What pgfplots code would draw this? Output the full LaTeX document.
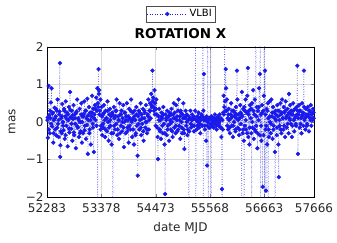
\documentclass[border=0pt]{standalone}
\usepackage{fontspec}
\setmainfont{DejaVu Sans}
\usepackage{pgfplots}
\pgfplotsset{compat=1.18}
\usepackage{pgfplotstable}
\definecolor{vblue}{RGB}{25,25,235}
\pgfplotstableread{
x y
52285 6
52291 0.05
52303 -0.42
52315 0.96
52327 0.18
52339 -0.3
52351 0.1
52363 0.52
52375 0.9
52387 -0.12
52399 0.25
52411 -0.55
52423 0.05
52435 0.38
52447 -0.2
52459 0.15
52471 -0.36
52483 0.3
52495 0.6
52507 -0.05
52519 -0.4
52531 0.2
52543 1.57
52549 -0.93
52555 -0.62
52567 0.1
52579 -0.3
52591 0.48
52603 0.0
52615 -0.22
52627 0.35
52639 -0.45
52651 0.15
52663 0.55
52675 -0.1
52687 0.25
52699 -0.65
52711 0.05
52723 0.4
52735 -0.28
52747 0.8
52759 0.12
52771 -0.18
52783 0.3
52795 -0.5
52807 0.08
52819 0.45
52831 -0.35
52843 0.2
52855 -0.05
52867 -0.7
52879 0.28
52891 0.6
52903 -0.15
52915 0.1
52927 -0.4
52939 0.35
52951 0.0
52963 -0.25
52975 0.5
52987 -0.55
52999 0.15
53011 -0.3
53023 0.22
53035 0.55
53047 -0.1
53059 0.3
53071 -0.45
53083 0.1
53095 0.62
53107 -0.85
53119 0.05
53131 0.4
53143 -0.2
53155 0.25
53167 -0.6
53179 0.15
53191 0.7
53203 -0.05
53215 0.35
53227 -0.8
53239 0.2
53251 0.45
53263 0.05
53275 0.65
53287 0.3
53299 0.9
53305 -7
53311 0.5
53323 1.41
53329 0.75
53335 0.85
53347 0.3
53359 0.6
53371 -0.1
53383 0.4
53395 -0.35
53407 0.2
53419 -0.15
53431 0.45
53443 0.05
53455 -0.4
53467 0.3
53479 0.1
53491 -0.25
53503 0.55
53515 0.0
53527 -0.5
53539 0.2
53551 0.35
53563 -0.1
53575 0.15
53587 -0.6
53599 0.25
53611 -7
53617 -0.3
53629 0.4
53641 0.1
53653 -0.2
53665 0.3
53677 -0.05
53689 0.6
53701 -0.35
53713 0.15
53725 0.05
53737 -0.45
53749 0.5
53761 0.2
53773 -0.1
53785 0.3
53797 -0.25
53809 0.1
53821 0.45
53833 -0.67
53845 0.0
53857 0.25
53869 -0.3
53881 0.15
53893 0.5
53905 -0.15
53917 0.05
53929 -0.55
53941 0.35
53953 0.1
53965 -0.2
53977 0.6
53989 0.0
54001 -0.4
54013 0.25
54025 0.1
54037 -0.6
54049 0.3
54061 0.05
54073 -0.3
54085 0.4
54097 -0.1
54109 -0.9
54115 -1.43
54121 0.15
54133 0.3
54145 -0.2
54157 0.05
54169 0.5
54181 -0.35
54193 0.2
54205 -0.05
54217 0.35
54229 -0.5
54241 0.1
54253 0.25
54265 -0.15
54277 0.45
54289 0.0
54301 -0.3
54313 0.2
54325 0.6
54337 -0.2
54349 0.3
54361 0.5
54373 0.1
54385 0.75
54397 0.4
54409 1.37
54415 0.55
54427 0.65
54439 0.3
54451 0.85
54463 0.5
54475 -0.1
54487 0.6
54499 0.2
54511 -0.4
54521 -0.99
54533 0.15
54545 0.35
54557 -0.2
54569 0.05
54581 -0.45
54593 0.25
54605 0.1
54617 -0.3
54629 0.4
54641 -0.05
54653 -0.6
54665 -1.92
54671 0.2
54683 0.1
54695 -0.35
54707 0.3
54719 -0.1
54731 0.15
54743 -0.5
54755 0.25
54767 0.05
54779 -0.2
54791 0.35
54803 0.0
54815 -0.4
54827 0.2
54839 0.5
54851 -0.15
54863 0.1
54875 -0.3
54887 0.45
54899 0.05
54911 -0.25
54923 0.3
54935 0.6
54947 -0.1
54959 0.15
54971 -0.45
54983 0.25
54995 0.0
55007 -0.3
55019 0.2
55031 0.5
55043 -0.2
55055 -0.72
55067 0.1
55079 0.3
55091 -0.1
55103 0.2
55115 -0.35
55127 0.05
55139 0.15
55145 -7
55151 -0.25
55163 0.1
55175 0.3
55187 -0.15
55199 0.05
55211 0.2
55223 -0.1
55235 0.15
55247 -0.25
55259 0.1
55271 0.3
55277 8
55280 -8
55289 0.05
55301 -0.2
55313 0.15
55325 0.0
55337 0.25
55349 -0.15
55361 0.1
55373 -0.3
55385 0.05
55397 0.2
55409 -0.1
55421 0.15
55428 8
55431 -8
55437 0.3
55448 1.28
55455 0.1
55467 -0.2
55479 0.05
55491 -0.5
55503 0.15
55509 -1.16
55515 -0.1
55527 8
55531 -8
55537 0.05
55549 -0.15
55561 0.1
55573 -0.05
55585 8
55590 -8
55597 0.15
55609 -0.1
55621 0.0
55633 0.1
55645 -0.15
55657 0.05
55669 0.2
55681 -0.05
55693 0.1
55705 -0.2
55717 0.05
55729 0.15
55741 -0.1
55753 0.0
55765 0.2
55777 -0.15
55789 0.1
55801 -0.4
55811 -1.79
55815 -7.5
55821 0.05
55833 0.25
55845 0.7
55857 0.4
55866 7
55871 0.55
55886 1.41
55893 0.9
55899 0.3
55911 0.6
55923 0.1
55935 -0.2
55947 0.35
55959 0.05
55971 -0.3
55983 0.2
55995 0.5
56007 -0.1
56019 0.15
56031 -0.4
56043 0.3
56055 0.0
56067 0.25
56079 -0.2
56091 0.4
56103 0.1
56113 1.37
56119 0.6
56131 -0.15
56143 0.2
56155 -0.35
56167 0.1
56179 0.45
56191 -0.05
56203 0.2
56208 -7
56214 0.8
56226 -0.3
56238 0.35
56250 -0.5
56255 -7
56262 0.4
56274 -0.1
56286 0.6
56298 -0.2
56310 0.25
56322 0.7
56335 1.44
56341 -0.4
56353 0.3
56365 -0.6
56377 0.45
56389 0.1
56401 -0.3
56410 -7
56416 0.5
56428 -0.15
56440 0.85
56452 -0.45
56464 0.2
56476 0.6
56488 -0.25
56496 8
56500 -0.1
56512 0.4
56524 -0.7
56536 0.3
56548 0.05
56560 0.9
56572 -0.35
56577 1.28
56581 8
56586 -8
56595 0.2
56607 -0.5
56619 0.45
56631 -1.73
56643 0.3
56655 0.7
56664 8
56668 -8
56678 1.37
56690 -0.2
56698 -1.83
56710 0.35
56722 -0.6
56734 0.5
56738 -7
56746 0.1
56758 -0.4
56770 0.55
56782 0.0
56794 -0.3
56806 0.6
56818 0.15
56830 -0.45
56842 0.4
56854 -0.1
56866 0.25
56878 -0.8
56883 -7
56890 0.3
56902 0.05
56914 -0.35
56926 0.45
56938 0.15
56950 -0.6
56956 -1.47
56962 0.3
56974 -0.1
56986 0.5
56998 0.2
57010 -0.3
57022 0.6
57034 0.1
57046 -0.2
57058 0.4
57070 0.25
57082 -0.4
57094 0.55
57106 0.1
57118 -0.15
57130 0.35
57142 0.2
57154 -0.3
57162 0.75
57174 0.1
57186 0.45
57198 -0.05
57210 0.3
57222 -0.4
57234 0.2
57246 0.5
57258 0.05
57270 -0.25
57282 0.35
57294 0.15
57306 -0.1
57318 0.4
57330 1.5
57336 0.3
57342 -0.85
57354 0.2
57366 0.45
57378 -0.15
57390 0.3
57402 0.1
57414 -0.3
57426 0.5
57438 0.2
57450 -0.1
57462 1.37
57468 0.4
57480 0.1
57492 -0.2
57504 0.35
57516 0.15
57528 -0.05
57540 0.4
57552 0.2
57564 -0.25
57576 0.3
57588 0.1
57600 0.45
57612 -0.1
57624 0.25
57636 0.05
57648 0.35
57660 0.1
}\vlbi
\pgfplotstableread{
x y
52297 0.12
52321 -0.2
52345 0.3
52369 -0.05
52393 0.22
52417 -0.3
52441 0.1
52465 0.35
52489 -0.15
52513 0.05
52537 0.28
52561 -0.25
52585 0.15
52609 -0.1
52633 0.3
52657 -0.35
52681 0.08
52705 0.2
52729 -0.18
52753 0.32
52777 -0.05
52801 0.18
52825 -0.28
52849 0.1
52873 0.25
52897 -0.12
52921 0.05
52945 -0.3
52969 0.2
52993 0.0
53017 0.15
53041 -0.22
53065 0.3
53089 -0.08
53113 0.18
53137 -0.3
53161 0.05
53185 0.25
53209 -0.15
53233 0.1
53257 0.35
53281 -0.1
53317 0.4
53341 0.2
53365 -0.2
53389 0.15
53413 -0.05
53437 0.25
53461 -0.2
53485 0.1
53509 0.3
53533 -0.15
53557 0.05
53581 -0.3
53605 0.2
53635 -0.1
53659 0.15
53683 0.3
53707 -0.2
53731 0.05
53755 -0.3
53779 0.2
53803 0.0
53827 -0.15
53851 0.25
53875 0.05
53899 -0.25
53923 0.15
53947 -0.1
53971 0.3
53995 0.05
54019 -0.2
54043 0.15
54067 -0.35
54091 0.2
54127 -0.05
54151 0.25
54175 -0.15
54199 0.1
54223 -0.25
54247 0.3
54271 0.0
54295 -0.2
54319 0.15
54343 0.05
54367 0.3
54391 0.45
54433 0.4
54457 0.2
54481 0.35
54505 -0.15
54539 0.05
54563 -0.25
54587 0.15
54611 -0.1
54635 0.2
54659 -0.3
54689 0.05
54713 -0.2
54737 0.15
54761 -0.05
54785 0.2
54809 -0.25
54833 0.1
54857 0.25
54881 -0.1
54905 0.15
54929 -0.2
54953 0.05
54977 0.3
55001 -0.15
55025 0.1
55049 -0.3
55073 0.15
55097 0.0
55121 -0.2
55157 0.1
55181 -0.05
55205 0.05
55229 0.1
55253 -0.1
55295 0.05
55319 -0.1
55343 0.1
55367 -0.05
55391 0.15
55415 -0.1
55443 0.05
55461 -0.1
55485 0.1
55521 0.0
55543 0.1
55567 -0.15
55603 0.05
55627 -0.05
55651 0.1
55675 0.0
55699 -0.1
55723 0.1
55747 -0.05
55771 0.05
55795 -0.15
55827 -0.2
55851 0.2
55881 0.3
55917 -0.1
55941 0.2
55965 -0.15
55989 0.1
56013 0.3
56037 -0.1
56061 0.15
56085 -0.25
56109 0.2
56137 0.05
56161 -0.2
56185 0.25
56220 0.15
56244 -0.2
56268 0.3
56292 0.05
56316 -0.3
56347 0.2
56371 -0.15
56395 0.35
56422 0.0
56446 0.3
56470 -0.2
56506 0.15
56530 -0.3
56554 0.4
56601 -0.1
56625 0.25
56649 -0.35
56684 0.2
56704 -0.1
56728 0.3
56752 -0.2
56776 0.15
56800 -0.05
56824 0.25
56848 -0.2
56872 0.1
56896 0.2
56920 -0.15
56944 0.3
56968 0.05
56992 -0.2
57016 0.25
57040 0.1
57064 -0.1
57088 0.3
57112 0.15
57136 -0.05
57160 0.25
57180 0.05
57204 0.2
57228 -0.1
57252 0.3
57276 0.1
57300 -0.05
57324 0.2
57348 0.1
57372 0.3
57396 -0.05
57420 0.15
57444 0.25
57474 0.05
57498 0.2
57522 -0.1
57546 0.15
57570 0.3
57594 0.05
57618 0.2
57642 0.1
57657 0.25
}\vlbicore
\begin{document}
\begin{tikzpicture}
\path[use as bounding box] (0,0) rectangle (337pt,242pt);
\begin{axis}[
  at={(47pt,45pt)}, anchor=south west,
  scale only axis, width=267pt, height=150pt,
  xmin=52283, xmax=57666, ymin=-2, ymax=2,
  scaled x ticks=false,
  xtick={52283,53378,54473,55568,56663,57666},
  xticklabels={52283,53378,54473,55568,56663,57666},
  ytick={-2,-1,0,1,2},
  yticklabels={−2,−1,0,1,2},
  tick label style={font=\fontsize{12}{14}\selectfont, text=black!85},
  xticklabel style={yshift=-3pt},
  tick align=inside, major tick length=3pt,
  grid=major, grid style={gray!30, line width=0.4pt},
  axis line style={black, line width=0.6pt},
  title={\textbf{ROTATION X}},
  title style={font=\fontsize{13.5}{15}\selectfont, yshift=-1pt},
  xlabel={date MJD}, ylabel={mas},
  label style={font=\fontsize{12}{14}\selectfont, text=black!85},
  xlabel style={at={(axis description cs:0.5,-0.207)}, anchor=center},
  ylabel style={at={(axis description cs:-0.131,0.5)}, anchor=center},
  legend style={at={(0.5,1)}, anchor=south, yshift=25pt,
    font=\fontsize{10}{12}\selectfont, draw=black!70, inner sep=1.5pt},
  legend image code/.code={\draw[mark repeat=2,mark phase=2] plot coordinates {(0cm,0cm)(0.7cm,0cm)(1.4cm,0cm)};},
]
\addplot[color=vblue, dotted, line width=0.5pt, mark=*, mark size=1.9pt, mark options={solid, fill=vblue, draw=vblue}, forget plot] table {\vlbicore};
\addplot[color=vblue, dotted, line width=0.5pt, mark=*, mark size=1.9pt, mark options={solid, fill=vblue, draw=vblue}] table {\vlbi};
\addlegendentry{VLBI}
\end{axis}
\end{tikzpicture}
\end{document}
